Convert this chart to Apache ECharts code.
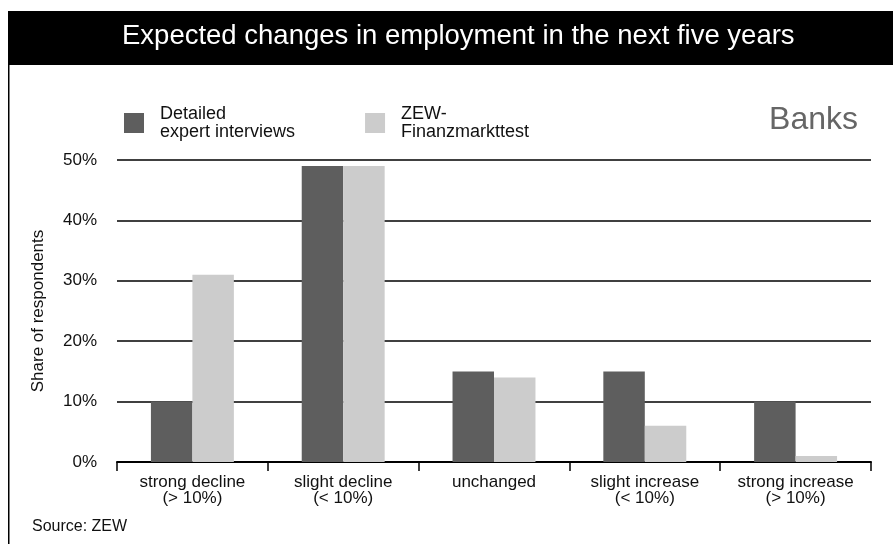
<!DOCTYPE html>
<html>
<head>
<meta charset="utf-8">
<script src="https://cdn.jsdelivr.net/npm/echarts@6/dist/echarts.min.js"></script>
<style>
  html, body { margin: 0; padding: 0; background: #fff; }
  #chart { width: 893px; height: 544px; }
</style>
</head>
<body>
<div id="chart"></div>
<script>
// categories and values (share of respondents, %)
var categories = ['strong decline\n(> 10%)', 'slight decline\n(< 10%)', 'unchanged', 'slight increase\n(< 10%)', 'strong increase\n(> 10%)'];
var expertInterviews = [10, 49, 15, 15, 10];
var finanzmarkttest = [31, 49, 14, 6, 1];
var seriesNames = ['Detailed\nexpert interviews', 'ZEW-\nFinanzmarkttest'];

var myChart = echarts.init(document.getElementById('chart'));
var baseFont = 'Liberation Sans, DejaVu Sans, sans-serif';

var option = {
    backgroundColor: '#fff',
    animation: false,
    textStyle: { fontFamily: baseFont },
    graphic: [
        // black header band
        { type: 'rect', left: 8, top: 11, shape: { width: 885, height: 54 }, style: { fill: '#000' } },
        // left frame line
        { type: 'rect', left: 8, top: 11, shape: { width: 1.5, height: 533 }, style: { fill: '#000' } },
        {
            type: 'text', left: 122, top: 22,
            style: { text: 'Expected changes in employment in the next five years', fill: '#fff',
                     font: '27.5px "Liberation Sans", sans-serif' }
        },
        {
            type: 'text', right: 35, top: 104,
            style: { text: 'Banks', fill: '#666', font: '32px "Liberation Sans", sans-serif' }
        },
        {
            type: 'text', left: 32, top: 519,
            style: { text: 'Source: ZEW', fill: '#111', font: '16px ' + baseFont }
        }
    ],
    legend: {
        left: 119,
        top: 100,
        itemWidth: 20,
        itemHeight: 20,
        itemGap: 70,
        data: seriesNames,
        textStyle: { fontSize: 18, color: '#111', lineHeight: 18, padding: [0, 0, 0, 11] },
        icon: 'rect'
    },
    grid: {
        left: 117,
        right: 22,
        top: 160,
        bottom: 82,
        containLabel: false
    },
    xAxis: {
        type: 'category',
        data: categories,
        axisLine: { lineStyle: { color: '#000', width: 2 } },
        axisTick: { show: true, length: 9, lineStyle: { color: '#000', width: 1.5 } },
        axisLabel: { fontSize: 17, color: '#111', lineHeight: 16, margin: 12, interval: 0 }
    },
    yAxis: {
        type: 'value',
        min: 0,
        max: 50,
        interval: 10,
        name: 'Share of respondents',
        nameLocation: 'middle',
        nameRotate: 90,
        nameGap: 70,
        nameTextStyle: { fontSize: 17, color: '#111' },
        axisLine: { show: false },
        axisTick: { show: false },
        axisLabel: { formatter: '{value}%', fontSize: 17, color: '#111', margin: 20 },
        splitLine: { lineStyle: { color: '#000', width: 1.5 } }
    },
    series: [
        {
            name: seriesNames[0],
            type: 'bar',
            data: expertInterviews,
            barGap: '0%',
            barCategoryGap: '45%',
            itemStyle: { color: '#5e5e5e' }
        },
        {
            name: seriesNames[1],
            type: 'bar',
            data: finanzmarkttest,
            itemStyle: { color: '#cccccc' }
        }
    ]
};

myChart.setOption(option);
</script>
</body>
</html>
